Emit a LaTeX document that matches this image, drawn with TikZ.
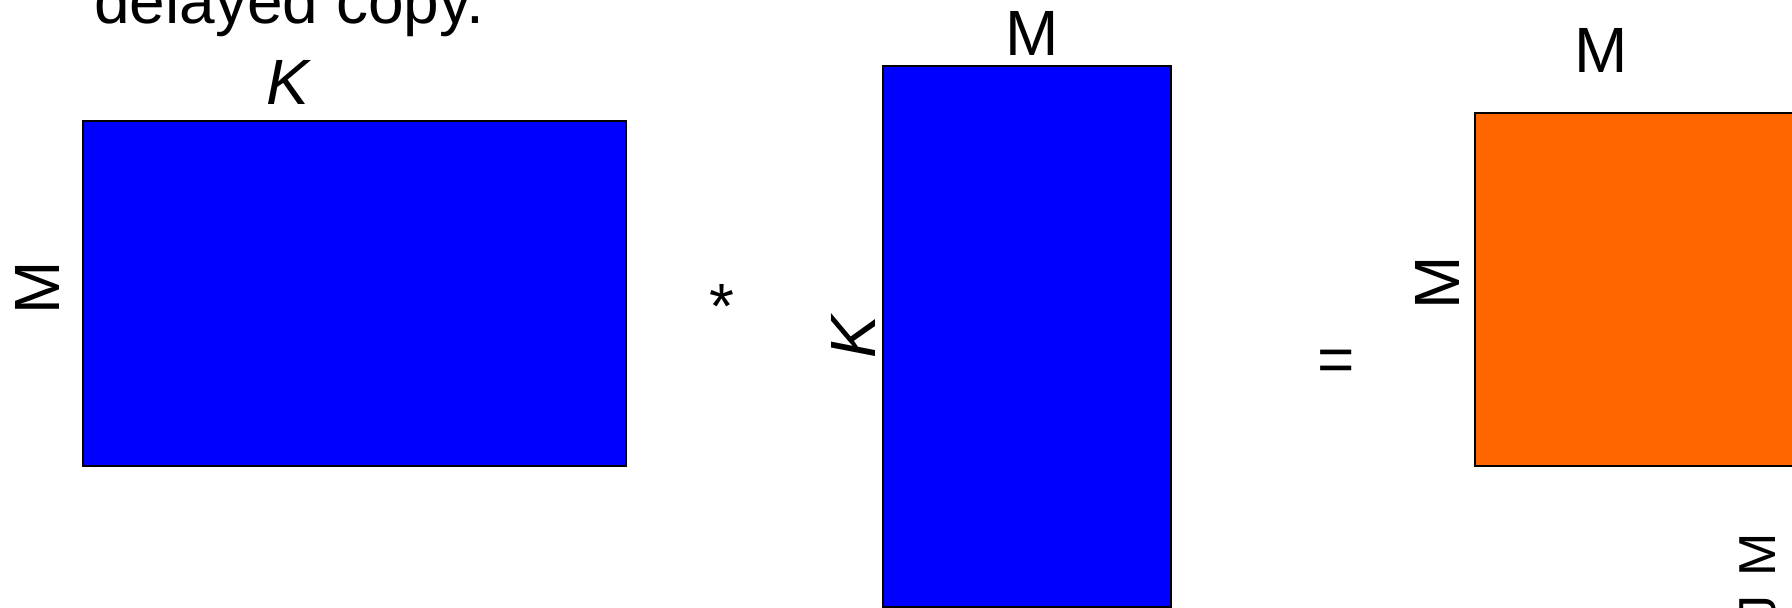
\documentclass[tikz,border=0pt]{standalone}
\usepackage{fontspec}
\setmainfont{Liberation Sans}
\definecolor{matblue}{HTML}{0000FF}
\definecolor{matorange}{HTML}{FF6600}
\begin{document}
\begin{tikzpicture}[x=1pt,y=-1pt,
  mat/.style={draw=black,line width=1.6pt,inner sep=0pt,anchor=north west},
  lbl/.style={inner sep=0pt,font=\fontsize{64}{77}\selectfont,anchor=base},
  rlbl/.style={lbl,rotate=90}]
\useasboundingbox (0,0) rectangle (1792,608);
% matrices
\node[mat,fill=matblue,minimum width=543pt,minimum height=345pt] (A) at (82,120) {};
\node[mat,fill=matblue,minimum width=288pt,minimum height=541pt] (B) at (882,65) {};
\node[mat,fill=matorange,minimum width=500pt,minimum height=353pt] (C) at (1474,112) {};
% caption
\node[lbl,anchor=base west] (cap) at (94,23) {delayed copy.};
% labels
\node[lbl] (AK) at (288,104) {\itshape K};
\node[rlbl] (AM) at (59,288) {M};
\node[lbl] (BM) at (1032,55) {M};
\node[rlbl] (BK) at (875,337) {\itshape K};
\node[lbl] (CM) at (1601,72) {M};
\node[rlbl] (CL) at (1459,283) {M};
\node[lbl,rotate=90,anchor=base east,font=\fontsize{52}{62}\selectfont] (CR) at (1775,533) {J\kern5pt\ M};
% operators
\node[lbl] (times) at (722,328) {*};
\node[lbl] (eq) at (1336,381) {=};
\end{tikzpicture}
\end{document}
